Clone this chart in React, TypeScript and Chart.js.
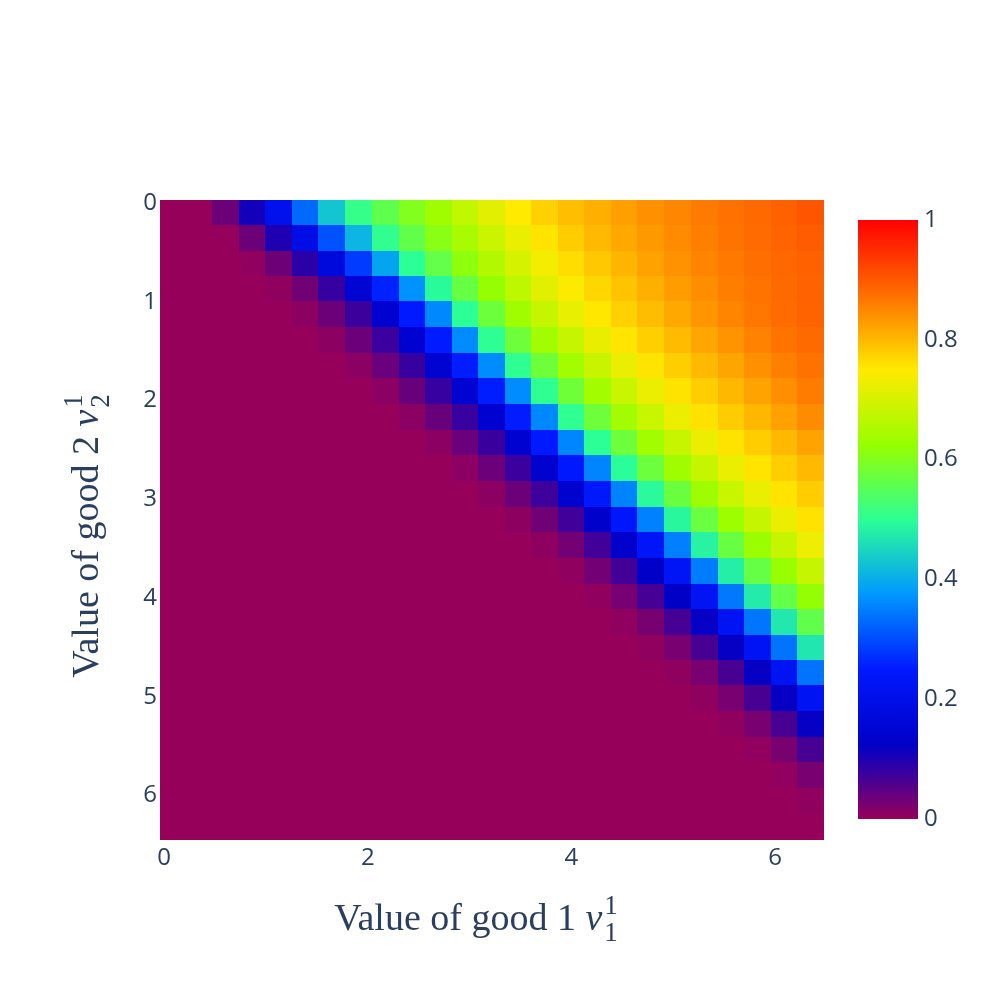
import React, { useEffect, useRef } from "react";
import { Chart, registerables } from "chart.js";

Chart.register(...registerables);

// Cell centres (value of good 1 along x, value of good 2 along y)
const xCenters = [0.09, 0.35, 0.61, 0.87, 1.13, 1.39, 1.65, 1.92, 2.18, 2.44, 2.7, 2.96, 3.22, 3.48, 3.74, 4.0, 4.26, 4.52, 4.78, 5.05, 5.31, 5.57, 5.83, 6.09, 6.35];
const yCenters = [0.1, 0.36, 0.62, 0.87, 1.13, 1.39, 1.65, 1.91, 2.17, 2.43, 2.69, 2.95, 3.21, 3.47, 3.73, 3.99, 4.25, 4.5, 4.76, 5.02, 5.28, 5.54, 5.8, 6.06, 6.32];

// z values, one row per yCenter, one column per xCenter
const zValues: number[][] = [
  [0, 0, 0.035, 0.11, 0.21, 0.33, 0.43, 0.51, 0.56, 0.6, 0.635, 0.675, 0.715, 0.75, 0.775, 0.795, 0.81, 0.825, 0.84, 0.852, 0.864, 0.873, 0.882, 0.892, 0.905],
  [0, 0, 0.002, 0.034, 0.1, 0.19, 0.306, 0.41, 0.505, 0.563, 0.608, 0.646, 0.686, 0.725, 0.756, 0.78, 0.8, 0.816, 0.832, 0.847, 0.858, 0.87, 0.879, 0.887, 0.896],
  [0, 0, 0, 0.004, 0.033, 0.09, 0.17, 0.283, 0.39, 0.5, 0.565, 0.615, 0.658, 0.7, 0.735, 0.763, 0.785, 0.805, 0.823, 0.839, 0.853, 0.865, 0.876, 0.884, 0.892],
  [0, 0, 0, 0, 0.006, 0.031, 0.08, 0.15, 0.259, 0.37, 0.495, 0.568, 0.623, 0.669, 0.713, 0.745, 0.769, 0.79, 0.81, 0.829, 0.845, 0.86, 0.871, 0.881, 0.89],
  [0, 0, 0, 0, 0, 0.008, 0.035, 0.075, 0.14, 0.25, 0.36, 0.5, 0.575, 0.635, 0.68, 0.722, 0.753, 0.775, 0.796, 0.816, 0.836, 0.853, 0.868, 0.879, 0.889],
  [0, 0, 0, 0, 0, 0, 0.008, 0.036, 0.076, 0.142, 0.252, 0.362, 0.502, 0.577, 0.637, 0.682, 0.724, 0.755, 0.777, 0.798, 0.818, 0.838, 0.855, 0.87, 0.881],
  [0, 0, 0, 0, 0, 0, 0, 0.009, 0.037, 0.078, 0.143, 0.253, 0.363, 0.503, 0.578, 0.638, 0.683, 0.725, 0.756, 0.778, 0.8, 0.82, 0.84, 0.858, 0.872],
  [0, 0, 0, 0, 0, 0, 0, 0, 0.009, 0.038, 0.079, 0.143, 0.254, 0.362, 0.504, 0.578, 0.639, 0.684, 0.726, 0.757, 0.779, 0.801, 0.822, 0.843, 0.862],
  [0, 0, 0, 0, 0, 0, 0, 0, 0, 0.01, 0.038, 0.078, 0.142, 0.253, 0.36, 0.503, 0.577, 0.64, 0.684, 0.727, 0.758, 0.78, 0.802, 0.824, 0.846],
  [0, 0, 0, 0, 0, 0, 0, 0, 0, 0, 0.009, 0.037, 0.077, 0.14, 0.25, 0.358, 0.5, 0.576, 0.638, 0.683, 0.726, 0.757, 0.779, 0.8, 0.822],
  [0, 0, 0, 0, 0, 0, 0, 0, 0, 0, 0, 0.009, 0.036, 0.076, 0.138, 0.247, 0.356, 0.497, 0.574, 0.636, 0.682, 0.725, 0.756, 0.778, 0.8],
  [0, 0, 0, 0, 0, 0, 0, 0, 0, 0, 0, 0, 0.008, 0.035, 0.074, 0.136, 0.244, 0.354, 0.494, 0.573, 0.634, 0.681, 0.725, 0.756, 0.779],
  [0, 0, 0, 0, 0, 0, 0, 0, 0, 0, 0, 0, 0, 0.007, 0.032, 0.072, 0.133, 0.24, 0.352, 0.49, 0.572, 0.632, 0.68, 0.726, 0.758],
  [0, 0, 0, 0, 0, 0, 0, 0, 0, 0, 0, 0, 0, 0, 0.007, 0.03, 0.07, 0.13, 0.235, 0.35, 0.485, 0.57, 0.63, 0.68, 0.728],
  [0, 0, 0, 0, 0, 0, 0, 0, 0, 0, 0, 0, 0, 0, 0, 0.006, 0.029, 0.069, 0.127, 0.23, 0.347, 0.48, 0.567, 0.626, 0.68],
  [0, 0, 0, 0, 0, 0, 0, 0, 0, 0, 0, 0, 0, 0, 0, 0, 0.006, 0.027, 0.067, 0.124, 0.226, 0.344, 0.476, 0.564, 0.622],
  [0, 0, 0, 0, 0, 0, 0, 0, 0, 0, 0, 0, 0, 0, 0, 0, 0, 0.005, 0.026, 0.066, 0.122, 0.222, 0.342, 0.472, 0.562],
  [0, 0, 0, 0, 0, 0, 0, 0, 0, 0, 0, 0, 0, 0, 0, 0, 0, 0, 0.005, 0.025, 0.065, 0.12, 0.22, 0.34, 0.47],
  [0, 0, 0, 0, 0, 0, 0, 0, 0, 0, 0, 0, 0, 0, 0, 0, 0, 0, 0, 0.005, 0.025, 0.065, 0.12, 0.22, 0.34],
  [0, 0, 0, 0, 0, 0, 0, 0, 0, 0, 0, 0, 0, 0, 0, 0, 0, 0, 0, 0, 0.005, 0.025, 0.065, 0.12, 0.22],
  [0, 0, 0, 0, 0, 0, 0, 0, 0, 0, 0, 0, 0, 0, 0, 0, 0, 0, 0, 0, 0, 0.005, 0.025, 0.065, 0.12],
  [0, 0, 0, 0, 0, 0, 0, 0, 0, 0, 0, 0, 0, 0, 0, 0, 0, 0, 0, 0, 0, 0, 0.004, 0.024, 0.065],
  [0, 0, 0, 0, 0, 0, 0, 0, 0, 0, 0, 0, 0, 0, 0, 0, 0, 0, 0, 0, 0, 0, 0, 0.004, 0.025],
  [0, 0, 0, 0, 0, 0, 0, 0, 0, 0, 0, 0, 0, 0, 0, 0, 0, 0, 0, 0, 0, 0, 0, 0, 0.005],
  [0, 0, 0, 0, 0, 0, 0, 0, 0, 0, 0, 0, 0, 0, 0, 0, 0, 0, 0, 0, 0, 0, 0, 0, 0],
];

const xTickValues = [0, 2, 4, 6];
const yTickValues = [0, 1, 2, 3, 4, 5, 6];
const colorbarTicks = [0, 0.2, 0.4, 0.6, 0.8, 1];
const colorbarLabels = ["0", "0.2", "0.4", "0.6", "0.8", "1"];

const xTitle = { text: "Value of good 1 ", variable: "v", sub: "1", sup: "1" };
const yTitle = { text: "Value of good 2 ", variable: "v", sub: "2", sup: "1" };

// Plotly "Rainbow" colour scale
const rainbowStops: [number, [number, number, number]][] = [
  [0, [150, 0, 90]],
  [0.125, [0, 0, 200]],
  [0.25, [0, 25, 255]],
  [0.375, [0, 152, 255]],
  [0.5, [44, 255, 150]],
  [0.625, [151, 255, 0]],
  [0.75, [255, 234, 0]],
  [0.875, [255, 111, 0]],
  [1, [255, 0, 0]],
];

const TEXT_COLOR = "#2a3f5f";
const TICK_FONT = "'Open Sans', sans-serif";
const TICK_SIZE = 24;
const TITLE_FONT = "'Liberation Serif', 'DejaVu Serif', serif";
const TITLE_SIZE = 38;

function colorFor(v: number): string {
  const t = Math.max(0, Math.min(1, v));
  for (let k = 1; k < rainbowStops.length; k++) {
    const [p1, c1] = rainbowStops[k];
    const [p0, c0] = rainbowStops[k - 1];
    if (t <= p1) {
      const f = (t - p0) / (p1 - p0);
      const r = Math.round(c0[0] + (c1[0] - c0[0]) * f);
      const g = Math.round(c0[1] + (c1[1] - c0[1]) * f);
      const b = Math.round(c0[2] + (c1[2] - c0[2]) * f);
      return `rgb(${r},${g},${b})`;
    }
  }
  return "rgb(255,0,0)";
}

function edges(c: number[], i: number): [number, number] {
  const n = c.length;
  const lo = i === 0 ? c[0] - (c[1] - c[0]) / 2 : (c[i - 1] + c[i]) / 2;
  const hi = i === n - 1 ? c[n - 1] + (c[n - 1] - c[n - 2]) / 2 : (c[i] + c[i + 1]) / 2;
  return [lo, hi];
}

const xMin = edges(xCenters, 0)[0];
const xMax = edges(xCenters, xCenters.length - 1)[1];
const yMin = edges(yCenters, 0)[0];
const yMax = edges(yCenters, yCenters.length - 1)[1];

const heatmapPlugin = {
  id: "heatmapCells",
  beforeDatasetsDraw(chart: any) {
    const { ctx, chartArea } = chart;
    const xs = chart.scales.x;
    const ys = chart.scales.y;
    const data = chart.data.datasets[0].data as any[];
    ctx.save();
    ctx.beginPath();
    ctx.rect(chartArea.left, chartArea.top, chartArea.right - chartArea.left, chartArea.bottom - chartArea.top);
    ctx.clip();
    for (const cell of data) {
      const [x0, x1] = edges(xCenters, cell.j);
      const [y0, y1] = edges(yCenters, cell.i);
      const px0 = xs.getPixelForValue(x0);
      const px1 = xs.getPixelForValue(x1);
      const py0 = ys.getPixelForValue(y0);
      const py1 = ys.getPixelForValue(y1);
      const l = Math.floor(Math.min(px0, px1));
      const t = Math.floor(Math.min(py0, py1));
      const w = Math.ceil(Math.max(px0, px1)) - l + 1;
      const h = Math.ceil(Math.max(py0, py1)) - t + 1;
      ctx.fillStyle = colorFor(cell.v);
      ctx.fillRect(l, t, w, h);
    }
    ctx.restore();
  },
};

function drawMathTitle(ctx: CanvasRenderingContext2D, title: any, size: number) {
  const mainFont = `${size}px ${TITLE_FONT}`;
  const varFont = `italic ${size}px ${TITLE_FONT}`;
  const scriptFont = `${Math.round(size * 0.7)}px ${TITLE_FONT}`;
  ctx.font = mainFont;
  const w1 = ctx.measureText(title.text).width;
  ctx.font = varFont;
  const w2 = ctx.measureText(title.variable).width;
  ctx.font = scriptFont;
  const w3 = Math.max(ctx.measureText(title.sub).width, ctx.measureText(title.sup).width);
  const total = w1 + w2 + 2 + w3;
  let x = -total / 2;
  ctx.textAlign = "left";
  ctx.textBaseline = "alphabetic";
  ctx.fillStyle = TEXT_COLOR;
  ctx.font = mainFont;
  ctx.fillText(title.text, x, 0);
  x += w1;
  ctx.font = varFont;
  ctx.fillText(title.variable, x, 0);
  x += w2 + 2;
  ctx.font = scriptFont;
  ctx.fillText(title.sup, x, -size * 0.42);
  ctx.fillText(title.sub, x, size * 0.3);
}

const decorPlugin = {
  id: "decor",
  afterDraw(chart: any) {
    const { ctx, chartArea } = chart;
    ctx.save();
    // colour bar
    const cbLeft = chartArea.right + 34;
    const cbWidth = 60;
    const cbTop = chartArea.top + 20;
    const cbBottom = chartArea.bottom - 21;
    const grad = ctx.createLinearGradient(0, cbBottom, 0, cbTop);
    for (const [p, c] of rainbowStops) grad.addColorStop(p, `rgb(${c[0]},${c[1]},${c[2]})`);
    ctx.fillStyle = grad;
    ctx.fillRect(cbLeft, cbTop, cbWidth, cbBottom - cbTop);
    ctx.font = `${TICK_SIZE}px ${TICK_FONT}`;
    ctx.fillStyle = TEXT_COLOR;
    ctx.textAlign = "left";
    ctx.textBaseline = "middle";
    colorbarTicks.forEach((v, k) => {
      const y = cbBottom - v * (cbBottom - cbTop);
      ctx.fillText(colorbarLabels[k], cbLeft + cbWidth + 6, y);
    });
    // x title
    const cx = (chartArea.left + chartArea.right) / 2 - 16;
    ctx.save();
    ctx.translate(cx, chartArea.bottom + 90);
    drawMathTitle(ctx, xTitle, TITLE_SIZE);
    ctx.restore();
    // y title
    const cy = (chartArea.top + chartArea.bottom) / 2 + 16;
    ctx.save();
    ctx.translate(chartArea.left - 62, cy);
    ctx.rotate(-Math.PI / 2);
    drawMathTitle(ctx, yTitle, TITLE_SIZE);
    ctx.restore();
    ctx.restore();
  },
};

export default function App() {
  const canvasRef = useRef<HTMLCanvasElement | null>(null);

  useEffect(() => {
    const canvas = canvasRef.current;
    if (!canvas) return;
    const cells: any[] = [];
    yCenters.forEach((yv, i) => {
      xCenters.forEach((xv, j) => {
        cells.push({ x: xv, y: yv, v: zValues[i][j], i, j });
      });
    });
    const chart = new Chart(canvas, {
      type: "scatter",
      data: {
        datasets: [
          {
            label: "heatmap",
            data: cells,
            pointRadius: 0,
            pointHoverRadius: 0,
          },
        ],
      },
      options: {
        animation: false,
        responsive: false,
        devicePixelRatio: 1,
        events: [],
        layout: { padding: { left: 0, top: 200, right: 176, bottom: 0 } },
        plugins: {
          legend: { display: false },
          tooltip: { enabled: false },
          title: { display: false },
        },
        scales: {
          x: {
            type: "linear",
            position: "bottom",
            min: xMin,
            max: xMax,
            grid: { display: false, drawTicks: false },
            border: { display: false },
            afterBuildTicks: (scale: any) => {
              scale.ticks = xTickValues.map((v) => ({ value: v }));
            },
            afterFit: (scale: any) => {
              scale.height = 160;
            },
            ticks: {
              padding: 4,
              color: TEXT_COLOR,
              font: { family: TICK_FONT, size: TICK_SIZE },
              maxRotation: 0,
              autoSkip: false,
              callback: (v: any) => String(v),
            },
          },
          y: {
            type: "linear",
            position: "left",
            reverse: true,
            min: yMin,
            max: yMax,
            grid: { display: false, drawTicks: false },
            border: { display: false },
            afterBuildTicks: (scale: any) => {
              scale.ticks = yTickValues.map((v) => ({ value: v }));
            },
            afterFit: (scale: any) => {
              scale.width = 160;
            },
            ticks: {
              padding: 3,
              color: TEXT_COLOR,
              font: { family: TICK_FONT, size: TICK_SIZE },
              autoSkip: false,
              callback: (v: any) => String(v),
            },
          },
        },
      } as any,
      plugins: [heatmapPlugin, decorPlugin],
    });
    return () => chart.destroy();
  }, []);

  return (
    <div style={{ position: "absolute", left: 0, top: 0, width: 1000, height: 1000, background: "#fff" }}>
      <canvas ref={canvasRef} width={1000} height={1000} style={{ width: 1000, height: 1000, display: "block" }} />
    </div>
  );
}
